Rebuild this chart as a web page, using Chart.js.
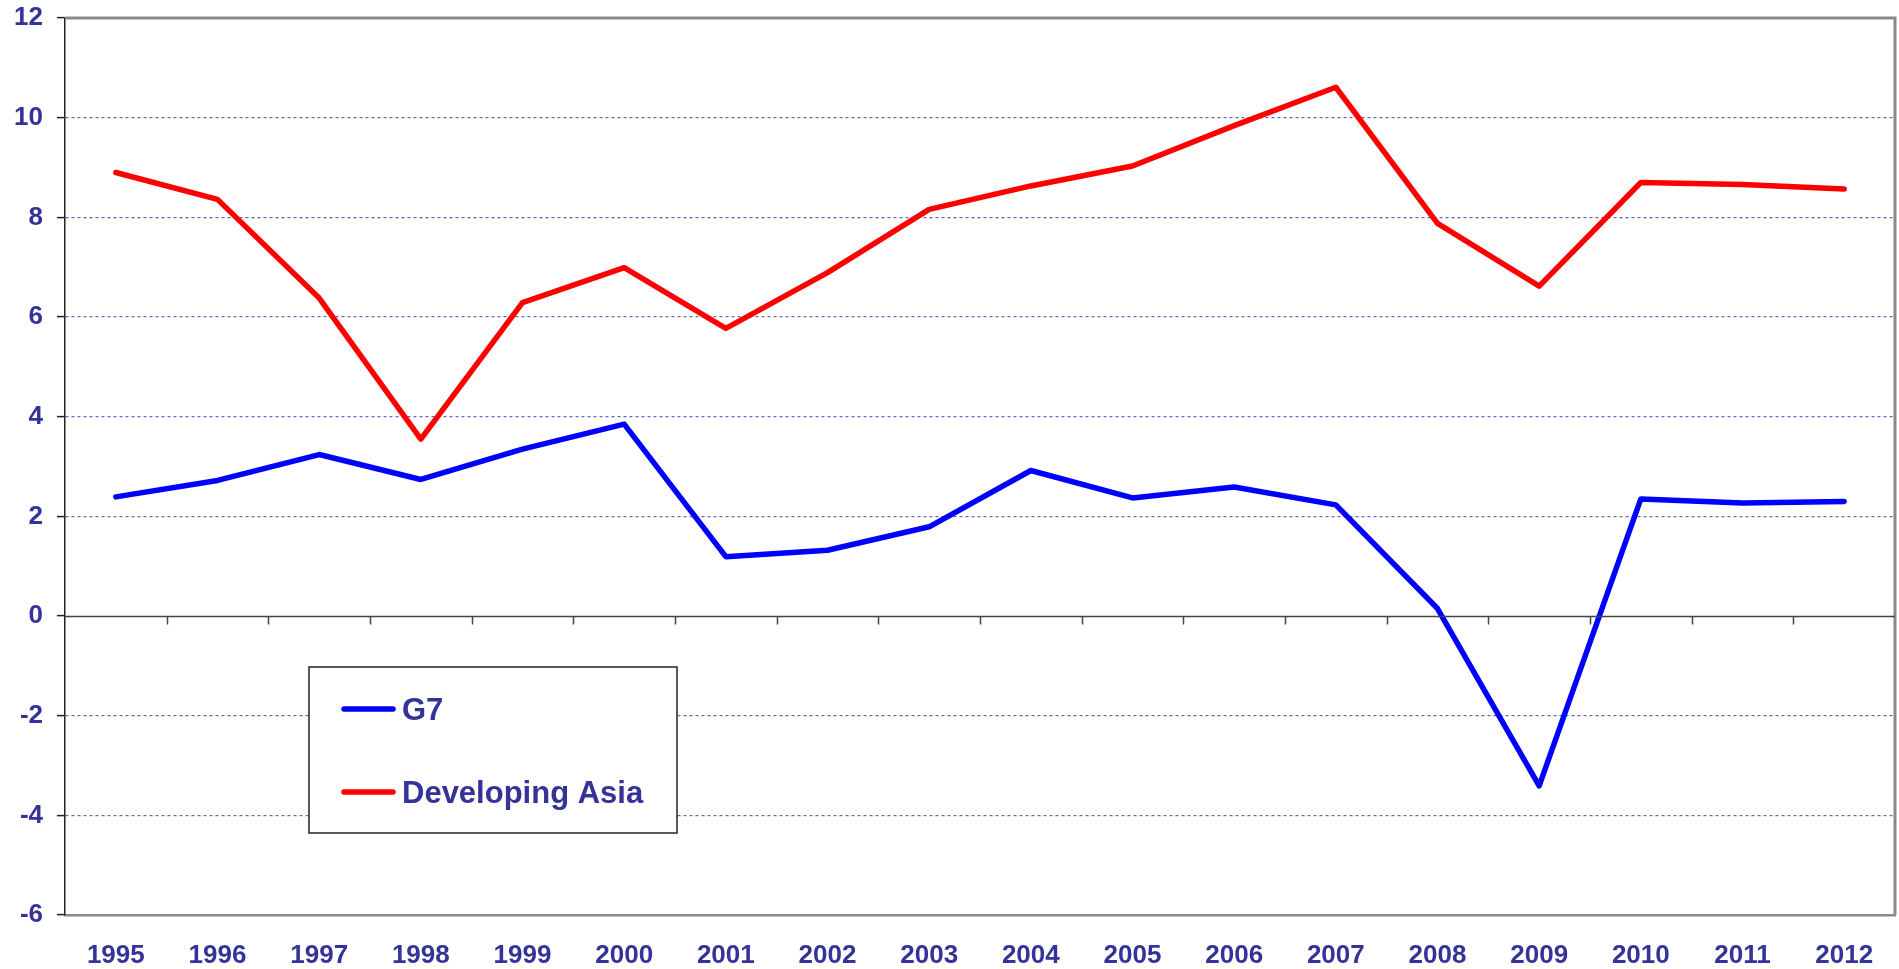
<!DOCTYPE html>
<html>
<head>
<meta charset="utf-8">
<title>G7 vs Developing Asia</title>
<script src="https://cdn.jsdelivr.net/npm/chart.js@4.4.0/dist/chart.umd.min.js"></script>
<style>
  html, body { margin: 0; padding: 0; background: #fff; }
  #wrap { width: 1899px; height: 969px; }
</style>
</head>
<body>
<div id="wrap"><canvas id="growthChart" width="1899" height="969"></canvas></div>
<script>
// yearly growth figures
const years = ['1995','1996','1997','1998','1999','2000','2001','2002','2003','2004','2005','2006','2007','2008','2009','2010','2011','2012'];
const g7 = [2.39, 2.72, 3.24, 2.74, 3.35, 3.85, 1.19, 1.32, 1.79, 2.92, 2.37, 2.59, 2.23, 0.15, -3.41, 2.35, 2.27, 2.30];
const devAsia = [8.90, 8.36, 6.38, 3.55, 6.29, 6.99, 5.77, 6.89, 8.16, 8.63, 9.03, 9.84, 10.61, 7.88, 6.62, 8.70, 8.66, 8.57];
const yTicks = [-6, -4, -2, 0, 2, 4, 6, 8, 10, 12];

const textColor = '#333399';
const fontFamily = 'Arial, "Liberation Sans", sans-serif';
const font = {family: fontFamily, size: 26, weight: 'bold'};
const lineW = 5.5;

// zero line, category ticks, frame and the boxed legend
const decorations = {
    id: 'decorations',
    afterDraw(chart){
        const ctx = chart.ctx;
        const area = chart.chartArea;
        const y = chart.scales.y;
        ctx.save();

        // top and right frame
        ctx.strokeStyle = '#8a8a8a';
        ctx.lineWidth = 3;
        ctx.beginPath();
        ctx.moveTo(area.left, area.top);
        ctx.lineTo(area.right, area.top);
        ctx.lineTo(area.right, area.bottom);
        ctx.stroke();

        // zero line with ticks between the years
        const y0 = Math.round(y.getPixelForValue(0)) + 0.5;
        ctx.strokeStyle = '#444';
        ctx.lineWidth = 1.5;
        ctx.beginPath();
        ctx.moveTo(area.left, y0);
        ctx.lineTo(area.right, y0);
        const step = (area.right - area.left) / years.length;
        for(let i=1;i<years.length;i++){
            const tx = Math.round(area.left + step*i) + 0.5;
            ctx.moveTo(tx, y0);
            ctx.lineTo(tx, y0 + 8);
        }
        ctx.stroke();

        // legend box
        const lx = 309, ly = 667, lw = 368, lh = 166;
        ctx.fillStyle = '#fff';
        ctx.fillRect(lx, ly, lw, lh);
        ctx.strokeStyle = '#222';
        ctx.lineWidth = 1.5;
        ctx.strokeRect(lx, ly, lw, lh);
        const rows = [709, 792];
        chart.data.datasets.forEach((ds, i) => {
            ctx.strokeStyle = ds.borderColor;
            ctx.lineWidth = lineW;
            ctx.lineCap = 'round';
            ctx.beginPath();
            ctx.moveTo(344, rows[i]);
            ctx.lineTo(393, rows[i]);
            ctx.stroke();
            ctx.fillStyle = textColor;
            ctx.font = 'bold 31px ' + fontFamily;
            ctx.textBaseline = 'middle';
            ctx.textAlign = 'left';
            ctx.fillText(ds.label, 402, rows[i] + 2);
        });
        ctx.restore();
    }
};

const ctx = document.getElementById('growthChart').getContext('2d');
const myChart = new Chart(ctx, {
    type: 'line',
    data: {
        labels: years,
        datasets: [{
            label: 'G7',
            data: g7,
            borderColor: '#0000ff',
            borderWidth: lineW,
            borderCapStyle: 'round',
            borderJoinStyle: 'round',
            pointRadius: 0,
            tension: 0
        }, {
            label: 'Developing Asia',
            data: devAsia,
            borderColor: '#ff0000',
            borderWidth: lineW,
            borderCapStyle: 'round',
            borderJoinStyle: 'round',
            pointRadius: 0,
            tension: 0
        }]
    },
    options: {
        responsive: false,
        animation: false,
        layout: {padding: {top: 18, right: 4, bottom: 0, left: 0}},
        plugins: {
            legend: {display: false},
            tooltip: {enabled: false}
        },
        scales: {
            x: {
                type: 'category',
                offset: true,
                grid: {display: true, drawOnChartArea: false, drawTicks: false, offset: true},
                border: {display: true, color: '#8a8a8a', width: 2.5},
                ticks: {color: textColor, font: font, padding: 25, maxRotation: 0, autoSkip: false},
                afterFit(scale){ scale.height = 54; }
            },
            y: {
                min: -6,
                max: 12,
                afterBuildTicks(scale){ scale.ticks = yTicks.map(v => ({value: v})); },
                grid: {
                    color(c){
                        const v = c.tick ? c.tick.value : null;
                        if(v === 0 || v === 12 || v === -6) return 'rgba(0,0,0,0)';
                        return '#6464c0';
                    },
                    lineWidth: 1.2,
                    tickColor: '#222',
                    tickLength: 8,
                    tickWidth: 1.5
                },
                border: {display: true, color: '#222', width: 1.5, dash: [3, 3]},
                ticks: {color: textColor, font: font, padding: 14},
                afterFit(scale){
                    scale.width = 65;
                    scale.paddingTop = 0;
                    scale.paddingBottom = 0;
                }
            }
        }
    },
    plugins: [decorations]
});
</script>
</body>
</html>
